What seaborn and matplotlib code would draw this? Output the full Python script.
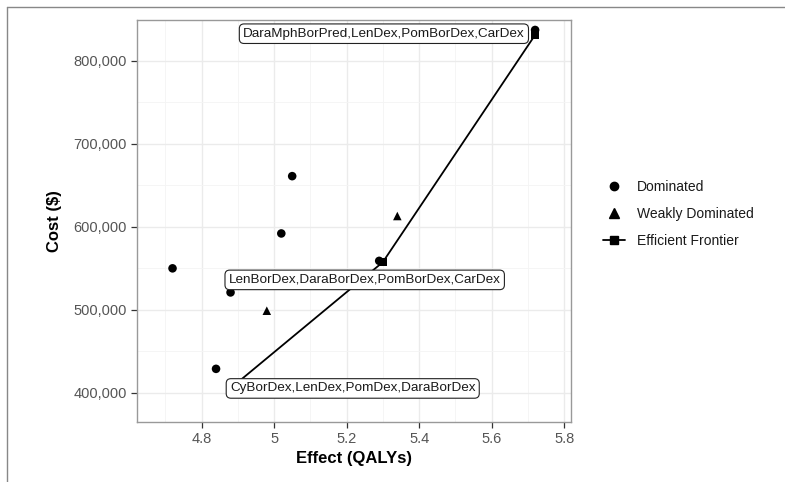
import matplotlib
matplotlib.use("Agg")
import matplotlib.pyplot as plt
from matplotlib.lines import Line2D
from matplotlib.ticker import FuncFormatter, MultipleLocator
import seaborn as sns
import pandas as pd

# ---- data ----
dom_effect = [4.72, 4.84, 4.88, 5.02, 5.05, 5.29, 5.72]
dom_cost = [550000, 429000, 521000, 592000, 661000, 559000, 837000]

weak_effect = [4.98, 5.34]
weak_cost = [499000, 613000]

front_effect = [4.884, 5.30, 5.72]
front_cost = [407000, 557500, 831000]
front_labels = ["CyBorDex,LenDex,PomDex,DaraBorDex",
                "LenBorDex,DaraBorDex,PomBorDex,CarDex",
                "DaraMphBorPred,LenDex,PomBorDex,CarDex"]
# label offsets relative to their frontier point (effect, cost)
label_dx = [0.333, -0.05, -0.417]
label_dy = [-1600, -21400, 1500]

group_names = ["Dominated", "Weakly Dominated", "Efficient Frontier"]

df = pd.DataFrame({
    "effect": dom_effect + weak_effect + front_effect,
    "cost": dom_cost + weak_cost + front_cost,
    "group": [group_names[0]] * len(dom_effect) + [group_names[1]] * len(weak_effect)
             + [group_names[2]] * len(front_effect),
})
front_df = df[df["group"] == group_names[2]]

sns.set_theme(style="white")
plt.rcParams["font.family"] = ["Liberation Sans", "DejaVu Sans"]

fig = plt.figure(figsize=(7.85, 4.82), dpi=100)
ax = fig.add_axes([137 / 785, 1 - 422 / 482, (571 - 137) / 785, (422 - 20) / 482])

# grid
ax.xaxis.set_major_locator(MultipleLocator(0.2))
ax.xaxis.set_minor_locator(MultipleLocator(0.1))
ax.yaxis.set_major_locator(MultipleLocator(100000))
ax.yaxis.set_minor_locator(MultipleLocator(50000))
ax.grid(which="major", color="#EBEBEB", lw=1.0, zorder=0)
ax.grid(which="minor", color="#F4F4F4", lw=0.6, zorder=0)
ax.set_axisbelow(True)

sns.lineplot(data=front_df, x="effect", y="cost", ax=ax, color="black", lw=1.3,
             sort=False, legend=False, zorder=2)
sns.scatterplot(data=df, x="effect", y="cost", style="group", ax=ax,
                markers={group_names[0]: "o", group_names[1]: "^", group_names[2]: "s"},
                color="black", s=38, edgecolor="black", linewidth=0, legend=False, zorder=3)

for ex, cy, lab, dx, dy in zip(front_effect, front_cost, front_labels, label_dx, label_dy):
    ax.text(ex + dx, cy + dy, lab, ha="center", va="center", fontsize=9.7, color="#1a1a1a",
            zorder=5,
            bbox=dict(boxstyle="round,pad=0.28,rounding_size=0.35", fc="white", ec="#222222", lw=0.8))

ax.set_xlim(4.622, 5.819)
ax.set_ylim(365000, 849000)
ax.yaxis.set_major_formatter(FuncFormatter(lambda v, p: f"{int(round(v)):,}"))
ax.xaxis.set_major_formatter(FuncFormatter(lambda v, p: f"{v:g}"))

ax.tick_params(axis="both", which="major", length=4, width=0.9, color="#333333",
               labelcolor="#555555", labelsize=10.5, direction="out", bottom=True, left=True)
ax.tick_params(axis="both", which="minor", length=0)
for sp in ax.spines.values():
    sp.set_color("#999999")
    sp.set_linewidth(1.0)

ax.set_xlabel("Effect (QALYs)", fontsize=12, fontweight="bold", color="black", labelpad=3)
ax.set_ylabel("Cost ($)", fontsize=12, fontweight="bold", color="black", labelpad=8)

handles = [
    Line2D([], [], marker="o", color="black", ls="none", markersize=6),
    Line2D([], [], marker="^", color="black", ls="none", markersize=6.5),
    Line2D([], [], marker="s", color="black", ls="-", lw=1.3, markersize=5.5),
]
leg = fig.legend(handles, group_names, loc="center left", bbox_to_anchor=(590 / 785, 1 - 214 / 482),
                 frameon=False, fontsize=10, handlelength=1.6, handletextpad=0.9, labelspacing=0.95)
for t in leg.get_texts():
    t.set_color("#1a1a1a")

# outer frame of the image (left and top edges)
fig.add_artist(Line2D([7 / 785, 7 / 785], [0, 1 - 7 / 482], color="#888888", lw=1.0))
fig.add_artist(Line2D([7 / 785, 1], [1 - 7 / 482, 1 - 7 / 482], color="#888888", lw=1.0))

fig.savefig("out.png", dpi=100, facecolor="white")
